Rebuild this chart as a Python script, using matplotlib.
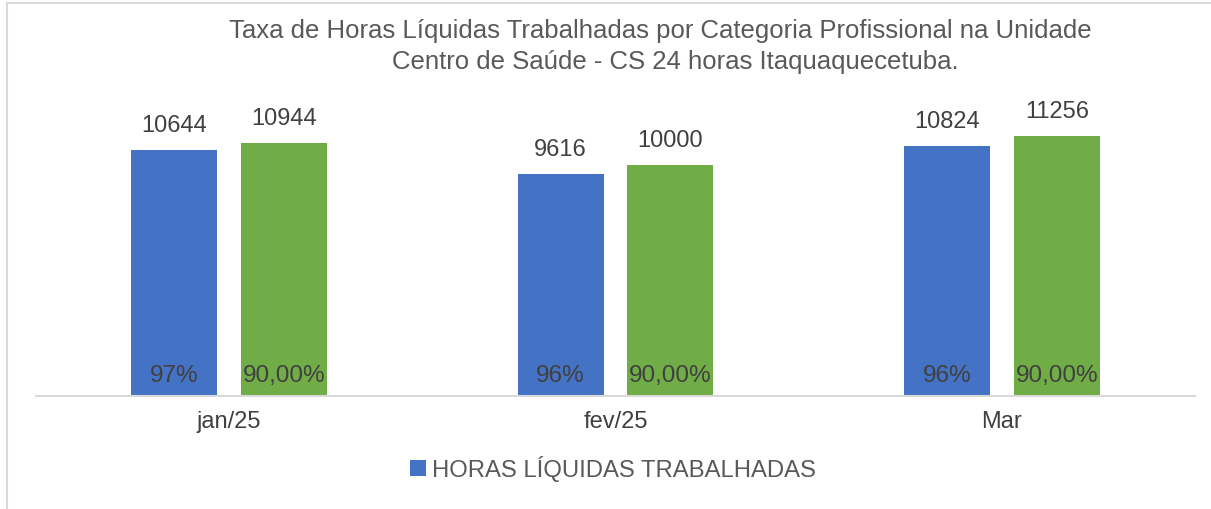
import matplotlib.pyplot as plt
from matplotlib.lines import Line2D

plt.rcParams['font.family'] = ['Liberation Sans', 'DejaVu Sans']

categorias = ['jan/25', 'fev/25', 'Mar']
horas = [10644, 9616, 10824]
horas_meta = [10944, 10000, 11256]
taxa = ['97%', '96%', '96%']
taxa_meta = ['90,00%', '90,00%', '90,00%']

azul = '#4472C4'
verde = '#70AD47'
texto = '#404040'

fig = plt.figure(figsize=(12.11, 5.10), dpi=100)
ax = fig.add_axes([36 / 1211, 113 / 510, 1159 / 1211, 307 / 510])

x = range(len(categorias))
w = 0.2225
off = 0.1423
b1 = ax.bar([i - off for i in x], horas, width=w, color=azul, label='HORAS LÍQUIDAS TRABALHADAS')
b2 = ax.bar([i + off for i in x], horas_meta, width=w, color=verde)

for bars, vals in ((b1, horas), (b2, horas_meta)):
    for r, v in zip(bars, vals):
        ax.annotate(str(v), (r.get_x() + r.get_width() / 2, v), xytext=(0, 10),
                    textcoords='offset points', ha='center', va='bottom',
                    fontsize=17, color=texto)

for bars, labs in ((b1, taxa), (b2, taxa_meta)):
    for r, t in zip(bars, labs):
        ax.annotate(t, (r.get_x() + r.get_width() / 2, 0), xytext=(0, 15),
                    textcoords='offset points', ha='center', va='center',
                    fontsize=17.5, color=texto)

ax.set_xlim(-0.5, 2.5)
ax.set_ylim(0, 13284)
ax.set_xticks(list(x))
ax.set_xticklabels(categorias, fontsize=17, color=texto)
ax.tick_params(axis='x', length=0, pad=10)
ax.set_yticks([])
for s in ['top', 'right', 'left']:
    ax.spines[s].set_visible(False)
ax.spines['bottom'].set_color('#D9D9D9')
ax.spines['bottom'].set_linewidth(1.5)

fig.text(660 / 1211, 1 - 31 / 510, 'Taxa de Horas Líquidas Trabalhadas por Categoria Profissional na Unidade',
         ha='center', va='center', fontsize=18.5, color='#595959')
fig.text(675 / 1211, 1 - 62 / 510, 'Centro de Saúde - CS 24 horas Itaquaquecetuba.',
         ha='center', va='center', fontsize=18.5, color='#595959')

fig.legend(handles=[b1], loc='center', bbox_to_anchor=(613 / 1211, 1 - 469 / 510),
           frameon=False, fontsize=17.2, handlelength=0.65, handleheight=0.65,
           handletextpad=0.25, labelcolor='#595959')

fig.add_artist(Line2D([7 / 1211, 7 / 1211], [0, 1 - 4 / 510], color='#D9D9D9', lw=1.5))
fig.add_artist(Line2D([7 / 1211, 1], [1 - 4 / 510, 1 - 4 / 510], color='#D9D9D9', lw=1.5))

fig.savefig('out.png', dpi=100)
